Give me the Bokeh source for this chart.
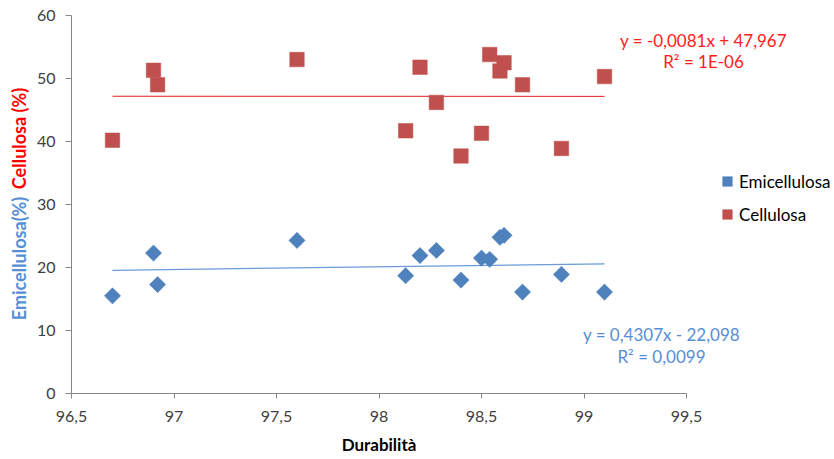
import numpy as np
from math import pi
from bokeh.plotting import figure
from bokeh.models import (ColumnDataSource, FixedTicker, Label, Legend, LegendItem, Range1d,
                          LinearAxis)
from bokeh.embed import file_html
from bokeh.resources import INLINE

# ---- data ----
durabilita = [96.70, 96.90, 96.92, 97.60, 98.13, 98.20, 98.28, 98.40, 98.50, 98.54,
              98.59, 98.61, 98.70, 98.89, 99.10]
cellulosa = [40.2, 51.3, 49.0, 53.0, 41.7, 51.8, 46.2, 37.7, 41.3, 53.8,
             51.2, 52.5, 49.0, 38.9, 50.3]
emicellulosa = [15.5, 22.3, 17.3, 24.3, 18.7, 21.9, 22.7, 18.0, 21.5, 21.3,
                24.8, 25.1, 16.1, 18.9, 16.1]
x_ticks = [96.5, 97, 97.5, 98, 98.5, 99, 99.5]
x_tick_labels = ["96,5", "97", "97,5", "98", "98,5", "99", "99,5"]
y_ticks = [0, 10, 20, 30, 40, 50, 60]
# trendline coefficients (slope, intercept) as printed on the chart
cell_fit = (-0.0081, 47.967)
emi_fit = (0.4307, -22.098)
cell_eq = ["y = -0,0081x + 47,967", "R² = 1E-06"]
emi_eq = ["y = 0,4307x - 22,098", "R² = 0,0099"]

FONT = "Lato"
BLUE = "#4F81BD"
RED = "#C0504D"

# layout (pixels): axis box from x=71..686, y=15..393 inside an 834x459 canvas
W, H = 834, 459
AX_L, AX_R, AX_T, AX_B = 71, 686, 15, 393
XMIN, XMAX, YMIN, YMAX = x_ticks[0], x_ticks[-1], y_ticks[0], y_ticks[-1]
sx = (AX_R - AX_L) / (XMAX - XMIN)
sy = (AX_B - AX_T) / (YMAX - YMIN)
x_range = Range1d(XMIN - AX_L / sx, XMIN + (W - AX_L) / sx)
y_range = Range1d(YMIN - (H - AX_B) / sy, YMIN + AX_B / sy)

p = figure(width=W, height=H, output_backend="svg", toolbar_location=None,
           x_range=x_range, y_range=y_range, x_axis_location=None, y_axis_location=None,
           min_border=0)
p.outline_line_color = None
p.grid.grid_line_color = None
p.background_fill_color = "white"

src = ColumnDataSource(dict(x=durabilita, c=cellulosa, e=emicellulosa))

# trend lines
xs = np.array([min(durabilita), max(durabilita)])
p.line(xs, emi_fit[0] * xs + emi_fit[1], line_color="#6A9BD8", line_width=1.3)
p.line(xs, cell_fit[0] * xs + cell_fit[1], line_color="#E02020", line_width=1)

r_emi = p.scatter("x", "e", source=src, marker="square", angle=pi / 4, size=11.5,
                  fill_color=BLUE, line_color=BLUE, line_width=0.5)
r_cel = p.scatter("x", "c", source=src, marker="square", size=14.5,
                  fill_color=RED, line_color=RED, line_width=0.5)

# axes drawn at fixed data locations
xaxis = LinearAxis(fixed_location=YMIN, bounds=(XMIN, XMAX), ticker=FixedTicker(ticks=x_ticks))
yaxis = LinearAxis(fixed_location=XMIN, bounds=(YMIN, YMAX), ticker=FixedTicker(ticks=y_ticks))
for ax in (xaxis, yaxis):
    ax.axis_line_color = "#868686"
    ax.major_tick_line_color = "#868686"
    ax.minor_tick_line_color = None
    ax.major_tick_in = 0
    ax.major_label_text_font = FONT
    ax.major_label_text_font_size = "16px"
    ax.major_label_text_color = "#404040"

xaxis.major_tick_out = 5
xaxis.major_label_overrides = {t: l for t, l in zip(x_ticks, x_tick_labels)}
xaxis.major_label_standoff = 12
xaxis.axis_label = "Durabilità"
xaxis.axis_label_text_font = FONT
xaxis.axis_label_text_font_style = "bold"
xaxis.axis_label_text_font_size = "17px"
xaxis.axis_label_text_color = "#000000"
xaxis.axis_label_standoff = 9
yaxis.major_tick_out = 6
yaxis.major_label_standoff = 10
p.add_layout(xaxis, "below")
p.add_layout(yaxis, "left")

# y title in two colours
p.add_layout(Label(x=18, y=258, x_units="canvas", y_units="canvas", text="Emicellulosa(%)",
                   angle=pi / 2, text_align="center", text_baseline="middle",
                   text_font=FONT, text_font_style="bold", text_font_size="18px",
                   text_color="#558ED5"))
p.add_layout(Label(x=18, y=138, x_units="canvas", y_units="canvas", text="Cellulosa (%)",
                   angle=pi / 2, text_align="center", text_baseline="middle",
                   text_font=FONT, text_font_style="bold", text_font_size="18px",
                   text_color="#FF0000"))

# equations
for i, t in enumerate(cell_eq):
    p.add_layout(Label(x=703, y=40 + 21 * i, x_units="canvas", y_units="canvas", text=t,
                       text_align="center", text_baseline="middle", text_font=FONT,
                       text_font_size="17px", text_color="#FF2020"))
for i, t in enumerate(emi_eq):
    p.add_layout(Label(x=661, y=334 + 22 * i, x_units="canvas", y_units="canvas", text=t,
                       text_align="center", text_baseline="middle", text_font=FONT,
                       text_font_size="17px", text_color="#558ED5"))

legend = Legend(items=[LegendItem(label="Emicellulosa", renderers=[r_emi]),
                       LegendItem(label="Cellulosa", renderers=[r_cel])],
                location=(715, 233), border_line_color=None, background_fill_alpha=0,
                label_text_font=FONT, label_text_font_size="17px", label_text_color="#000000",
                glyph_width=24, glyph_height=24, spacing=9, padding=0, margin=0,
                label_standoff=-2)
p.add_layout(legend, "center")

open("out.html", "w").write(file_html(p, INLINE))
